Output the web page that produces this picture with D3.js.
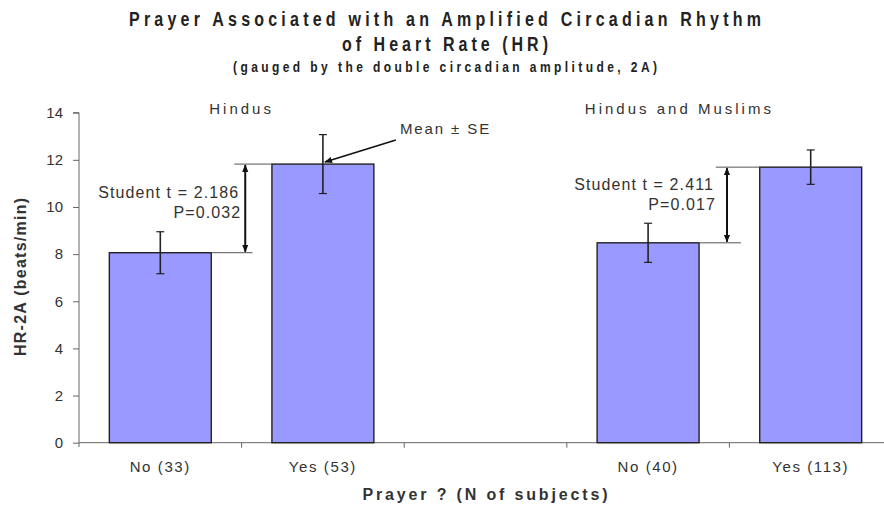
<!DOCTYPE html>
<html>
<head>
<meta charset="utf-8">
<script src="https://cdn.jsdelivr.net/npm/d3@7"></script>
<style>
  body { margin: 0; background: #fff; }
  svg text { font-family: "Liberation Sans", Arial, sans-serif; fill: #333; }
  .title { font-family: "Liberation Sans", Arial, sans-serif; font-weight: bold; fill: #222; }
</style>
</head>
<body>
<div id="chart"></div>
<script>
// categories (the blank one is the gap between the two groups)
const categories = ['No (33)', 'Yes (53)', ' ', 'No (40)', 'Yes (113)'];
// mean HR-2A (beats/min) and its standard error
const means = [8.06, 11.82, null, 8.48, 11.69];
const errors = [0.89, 1.25, null, 0.83, 0.73];
const yTicks = [0, 2, 4, 6, 8, 10, 12, 14];

// group headings
const groupNames = ['Hindus', 'Hindus and Muslims'];
const groupCats = [['No (33)', 'Yes (53)'], ['No (40)', 'Yes (113)']];
// t-test results per group
const tStats = ['2.186', '2.411'];
const pValues = ['0.032', '0.017'];

const titleLines = [
  'Prayer Associated with an Amplified Circadian Rhythm',
  'of Heart Rate (HR)',
  '(gauged by the double circadian amplitude, 2A)'
];

const W = 884, H = 508;
const svg = d3.select('#chart').append('svg').attr('width', W).attr('height', H);

// scales
const x = d3.scaleBand().domain(categories).range([79, 892])
  .paddingInner(0.373).paddingOuter(0.1865);
const y = d3.scaleLinear().domain([0, 14]).range([442.7, 112.7]);
const step = x.step(), bw = x.bandwidth();

// titles (condensed bold, like Arial Narrow)
const squeeze = 0.8;
const titleStyle = [
  {y: 26, size: 20, len: 632},
  {y: 51, size: 20, len: 206},
  {y: 72, size: 15, len: 424}
];
svg.selectAll('text.title').data(titleLines).enter().append('text')
  .attr('class', 'title')
  .attr('transform', (d, i) => `translate(445,${titleStyle[i].y}) scale(${squeeze},1)`)
  .attr('text-anchor', 'middle')
  .style('font-size', (d, i) => titleStyle[i].size + 'px')
  .attr('textLength', (d, i) => titleStyle[i].len / squeeze)
  .attr('lengthAdjust', 'spacing')
  .text(d => d);

// y axis
const yAxis = d3.axisLeft(y).tickValues(yTicks).tickSize(6).tickPadding(10);
const gy = svg.append('g').attr('transform', 'translate(79,0)').call(yAxis);
gy.select('.domain').attr('stroke', '#666').attr('d', 'M-6,112.7H0V447');
gy.selectAll('.tick line').attr('stroke', '#666');
gy.selectAll('.tick text').style('font-size', '15px').style('font-family', '"Liberation Sans", Arial, sans-serif').attr('fill', '#333');

// x axis line and category boundary ticks
svg.append('line').attr('x1', 79).attr('x2', W).attr('y1', y(0)).attr('y2', y(0))
  .attr('stroke', '#666');
svg.selectAll('line.xtick').data(categories.slice(0, -1)).enter().append('line')
  .attr('class', 'xtick')
  .attr('x1', d => x(d) + bw + (step - bw) / 2)
  .attr('x2', d => x(d) + bw + (step - bw) / 2)
  .attr('y1', y(0)).attr('y2', y(0) + 5)
  .attr('stroke', '#666');

// x tick labels
svg.selectAll('text.xlab').data(categories).enter().append('text')
  .attr('class', 'xlab')
  .attr('x', d => x(d) + bw / 2)
  .attr('y', 472)
  .attr('text-anchor', 'middle')
  .style('font-size', '15px')
  .style('letter-spacing', '1.6px')
  .text(d => d.trim());

// axis titles
svg.append('text')
  .attr('x', 485).attr('y', 500)
  .attr('text-anchor', 'middle')
  .style('font-size', '16px').style('font-weight', 'bold').attr('fill', '#222')
  .attr('textLength', 245).attr('lengthAdjust', 'spacing')
  .text('Prayer ?  (N of subjects)');
svg.append('text')
  .attr('transform', 'translate(26,277) rotate(-90)')
  .attr('text-anchor', 'middle')
  .style('font-size', '16px').style('font-weight', 'bold').attr('fill', '#222')
  .attr('textLength', 158).attr('lengthAdjust', 'spacing')
  .text('HR-2A (beats/min)');

// bars
const barData = categories.map((c, i) => ({c, m: means[i], e: errors[i]})).filter(d => d.m != null);
svg.selectAll('rect.bar').data(barData).enter().append('rect')
  .attr('class', 'bar')
  .attr('x', d => x(d.c))
  .attr('y', d => y(d.m))
  .attr('width', bw)
  .attr('height', d => y(0) - y(d.m))
  .attr('fill', '#9999ff')
  .attr('stroke', '#222')
  .attr('stroke-width', 1.4);

// error bars
const eb = svg.selectAll('g.err').data(barData).enter().append('g')
  .attr('transform', d => `translate(${x(d.c) + bw / 2},0)`)
  .attr('stroke', '#222').attr('stroke-width', 1.6);
eb.append('line').attr('y1', d => y(d.m + d.e)).attr('y2', d => y(d.m - d.e));
eb.append('line').attr('x1', -4).attr('x2', 4).attr('y1', d => y(d.m + d.e)).attr('y2', d => y(d.m + d.e)).attr('stroke-width', 1.2);
eb.append('line').attr('x1', -4).attr('x2', 4).attr('y1', d => y(d.m - d.e)).attr('y2', d => y(d.m - d.e)).attr('stroke-width', 1.2);

// group headings (offset from the centre of their two bars)
const headingDx = [0, -50];
svg.selectAll('text.group').data(groupNames).enter().append('text')
  .attr('x', (d, i) => {
    const [a, b] = groupCats[i];
    return (x(a) + x(b) + bw) / 2 + headingDx[i];
  })
  .attr('y', 114)
  .attr('text-anchor', 'middle')
  .style('font-size', '15px')
  .style('letter-spacing', '3px')
  .text(d => d);

// arrowheads
const defs = svg.append('defs');
defs.append('marker').attr('id', 'ah').attr('viewBox', '0 0 10 10')
  .attr('refX', 9).attr('refY', 5).attr('markerWidth', 8).attr('markerHeight', 8)
  .attr('markerUnits', 'userSpaceOnUse')
  .attr('orient', 'auto-start-reverse')
  .append('path').attr('d', 'M0,1L10,5L0,9Z').attr('fill', '#111');

// significance brackets (fractions of the gap between the two bars)
const bracketLayout = [
  {upFrom: 0.38, lowTo: 0.68, arrow: 0.56, textDx: -6, t1: -10, t2: 10},
  {upFrom: 0.275, lowTo: 0.69, arrow: 0.46, textDx: -13, t1: -15, t2: 5}
];
groupCats.forEach(([a, b], i) => {
  const L = bracketLayout[i];
  const ma = means[categories.indexOf(a)], mb = means[categories.indexOf(b)];
  const gapL = x(a) + bw, gapR = x(b), gap = gapR - gapL;
  const ax = gapL + gap * L.arrow;
  svg.append('line').attr('x1', gapL + gap * L.upFrom).attr('x2', gapR)
    .attr('y1', y(mb)).attr('y2', y(mb)).attr('stroke', '#555');
  svg.append('line').attr('x1', gapL).attr('x2', gapL + gap * L.lowTo)
    .attr('y1', y(ma)).attr('y2', y(ma)).attr('stroke', '#555');
  svg.append('line').attr('x1', ax).attr('x2', ax)
    .attr('y1', y(mb) + 1).attr('y2', y(ma) - 1)
    .attr('stroke', '#111').attr('stroke-width', 2)
    .attr('marker-start', 'url(#ah)').attr('marker-end', 'url(#ah)');
  const mid = (y(ma) + y(mb)) / 2;
  svg.append('text').attr('x', ax + L.textDx).attr('y', mid + L.t1)
    .attr('text-anchor', 'end').style('font-size', '16px').style('letter-spacing', '1.1px')
    .text('Student t = ' + tStats[i]);
  svg.append('text').attr('x', ax + L.textDx + 2).attr('y', mid + L.t2)
    .attr('text-anchor', 'end').style('font-size', '16px').style('letter-spacing', '1.1px')
    .text('P=' + pValues[i]);
});

// "Mean ± SE" callout pointing at the Hindus "Yes" bar
const calloutCat = 'Yes (53)';
const cx = x(calloutCat) + bw / 2, cy = y(means[categories.indexOf(calloutCat)]);
svg.append('line').attr('x1', cx + 73).attr('y1', cy - 24).attr('x2', cx + 2).attr('y2', cy - 2)
  .attr('stroke', '#111').attr('stroke-width', 1.6).attr('marker-end', 'url(#ah)');
svg.append('text').attr('x', cx + 77).attr('y', cy - 30)
  .style('font-size', '15px').style('letter-spacing', '1.9px')
  .text('Mean \u00b1 SE');
</script>
</body>
</html>
